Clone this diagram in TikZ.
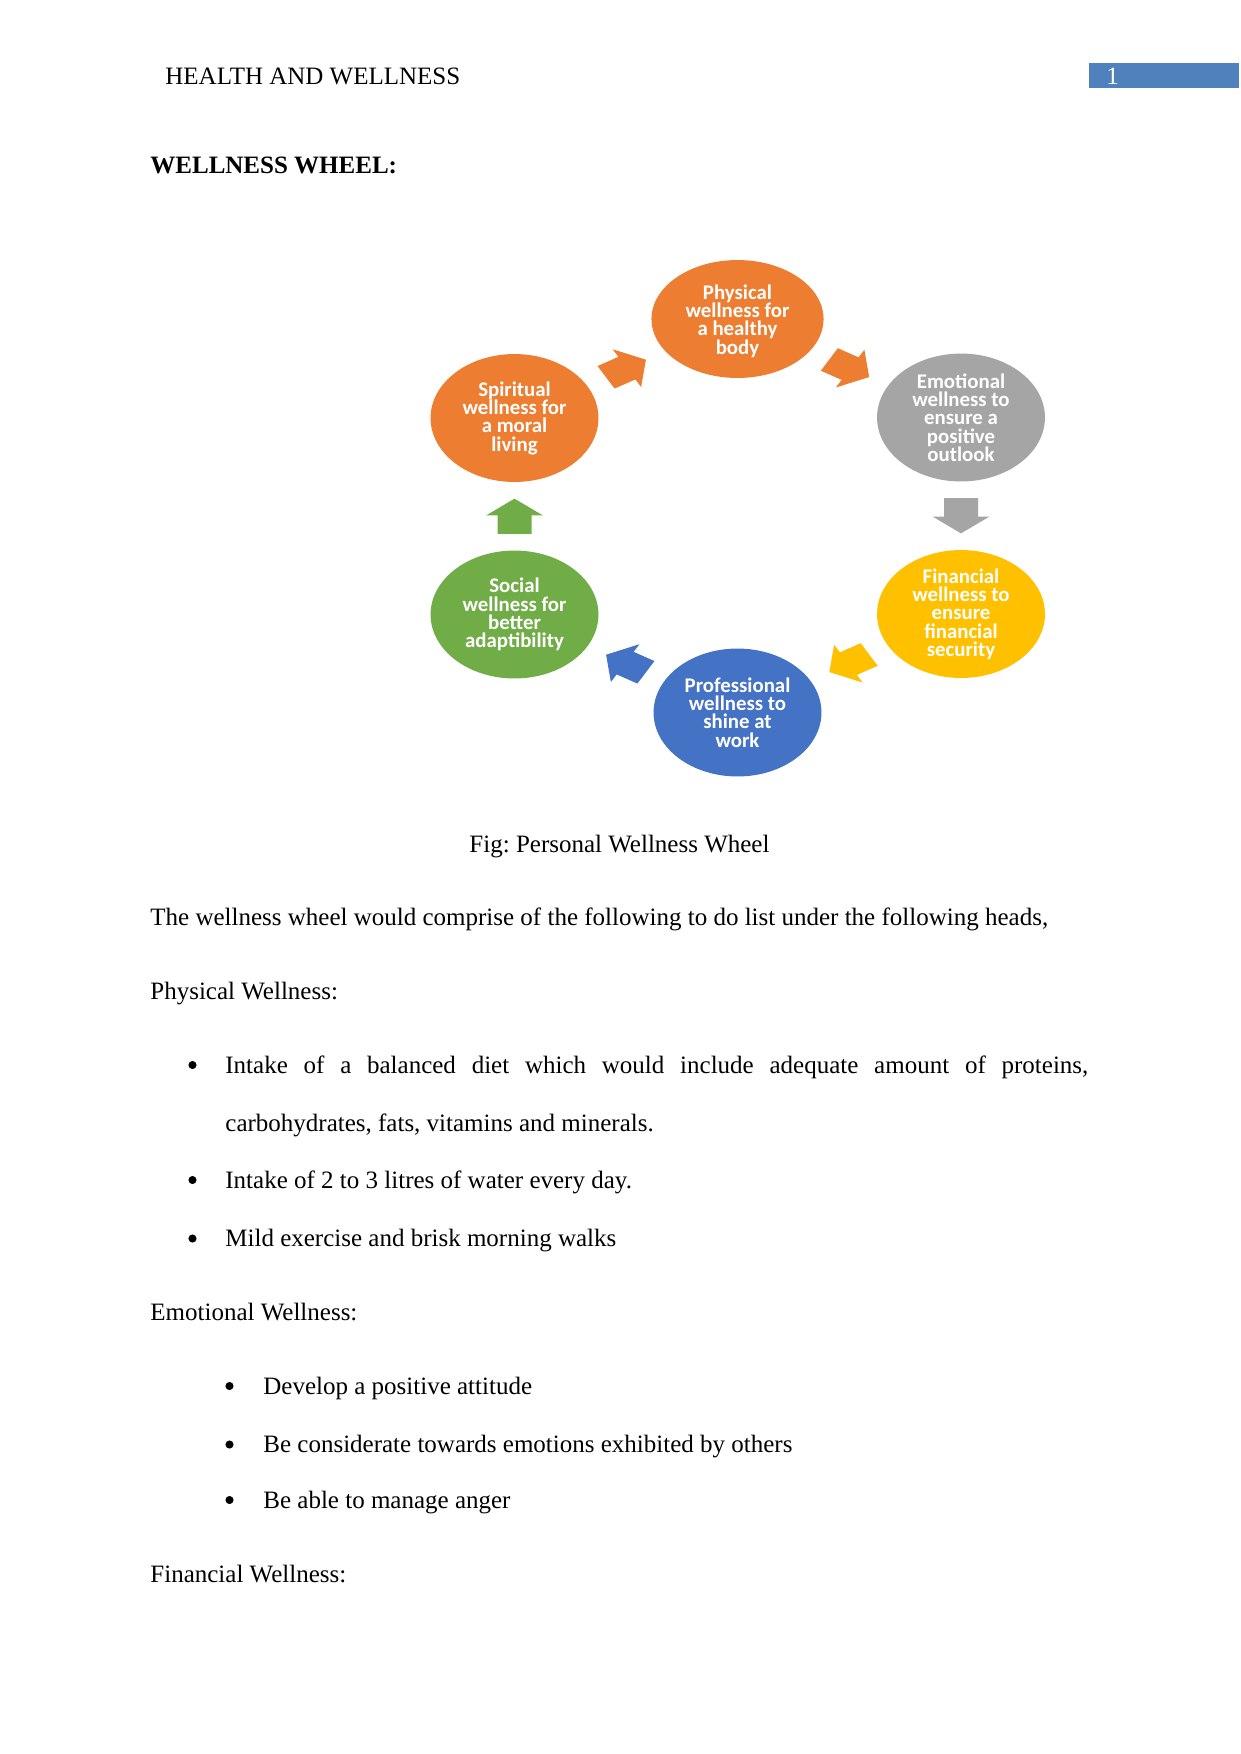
\documentclass[tikz,border=0pt]{standalone}
\usepackage{fontspec}
\setmainfont{Liberation Serif}
\newfontfamily\calib{Carlito}
\usetikzlibrary{shapes.geometric,calc}
\definecolor{worange}{HTML}{ED7D31}
\definecolor{wgray}{HTML}{A5A5A5}
\definecolor{wyellow}{HTML}{FFC000}
\definecolor{wblue}{HTML}{4472C4}
\definecolor{wgreen}{HTML}{70AD47}
\definecolor{hdrblue}{HTML}{4F81BD}
\newcommand\wheelarrow[3]{%
  \fill[#3, shift={(#1)}, yscale=0.765, rotate=#2]
    (-23,-17) -- (1,-17) -- (1,-28.5) -- (23,0) -- (1,28.5) -- (1,17) -- (-23,17) -- cycle;}
\begin{document}
\frenchspacing
\begin{tikzpicture}[x=0.48pt,y=-0.48pt,
  wnode/.style={ellipse, minimum width=80.6pt, minimum height=61.4pt, inner sep=0pt},
  wtext/.style={text=white, font=\calib\bfseries\fontsize{10}{8.8}\selectfont, align=center, inner sep=0pt},
  body/.style={anchor=base west, inner sep=0pt, font=\fontsize{12}{14}\selectfont},
  bul/.style={circle, fill=black, inner sep=0pt, minimum size=3.9pt},
]
\useasboundingbox[fill=white] (0,0) rectangle (1241,1754);

% header
\node[body] (hdr) at (165,84) {HEALTH AND WELLNESS};
\fill[hdrblue] (1089,63) rectangle (1239,88);
\node[body, text=white] (pg) at (1106,84) {1};
\node[body, font=\fontsize{12}{14}\selectfont\bfseries] (title) at (150,173.5) {WELLNESS WHEEL:};

% wheel nodes
\node[wnode, fill=worange, minimum width=82.6pt, minimum height=56.6pt] (phy) at (737.5,319) {};
\node[wnode, fill=wgray] (emo) at (961,417.5) {};
\node[wnode, fill=wyellow] (fin) at (961,614) {};
\node[wnode, fill=wblue] (pro) at (737.5,712.5) {};
\node[wnode, fill=wgreen] (soc) at (514.5,614.5) {};
\node[wnode, fill=worange] (spi) at (514.5,418) {};

\node[wtext] (phyt) at ([yshift=-1pt]phy.center) {Physical\\wellness for\\a healthy\\body};
\node[wtext] (emot) at (emo.center) {Emotional\\wellness to\\ensure a\\positive\\outlook};
\node[wtext] (fint) at (fin.center) {Financial\\wellness to\\ensure\\financial\\security};
\node[wtext] (prot) at (pro.center) {Professional\\wellness to\\shine at\\work};
\node[wtext] (soct) at (soc.center) {Social\\wellness for\\better\\adaptibility};
\node[wtext] (spit) at (spi.center) {Spiritual\\wellness for\\a moral\\living};

% block arrows between nodes
\coordinate (m1) at ($(spi.center)!0.5!(phy.center)$);
\coordinate (m2) at ($(phy.center)!0.5!(emo.center)$);
\coordinate (m3) at ($(emo.center)!0.5!(fin.center)$);
\coordinate (m4) at ($(fin.center)!0.5!(pro.center)$);
\coordinate (m5) at ($(pro.center)!0.5!(soc.center)$);
\coordinate (m6) at ($(soc.center)!0.5!(spi.center)$);
\wheelarrow{m1}{30}{worange}
\wheelarrow{m2}{-30}{worange}
\wheelarrow{m3}{-90}{wgray}
\wheelarrow{m4}{-150}{wyellow}
\wheelarrow{m5}{150}{wblue}
\wheelarrow{m6}{90}{wgreen}

% caption and text
\node[body, anchor=base] (cap) at (619.5,852) {Fig: Personal Wellness Wheel};
\node[body] (p1) at (150,925) {The wellness wheel would comprise of the following to do list under the following heads,};
\node[body] (h1) at (150,999) {Physical Wellness:};
\node[bul] (b1) at (192.5,1065) {};
\node[body] (l1) at (225,1073) {\makebox[414.2pt][s]{Intake of a balanced diet which would include adequate amount of proteins,}};
\node[body] (l1b) at (225,1131) {carbohydrates, fats, vitamins and minerals.};
\node[bul] (b2) at (192.5,1180) {};
\node[body] (l2) at (225,1188) {Intake of 2 to 3 litres of water every day.};
\node[bul] (b3) at (192.5,1238.5) {};
\node[body] (l3) at (225,1246.5) {Mild exercise and brisk morning walks};
\node[body] (h2) at (150,1320) {Emotional Wellness:};
\node[bul] (b4) at (229.5,1386) {};
\node[body] (l4) at (263,1394) {Develop a positive attitude};
\node[bul] (b5) at (229.5,1444.5) {};
\node[body] (l5) at (263,1452.5) {Be considerate towards emotions exhibited by others};
\node[bul] (b6) at (229.5,1500) {};
\node[body] (l6) at (263,1508) {Be able to manage anger};
\node[body] (h3) at (150,1582) {Financial Wellness:};
\end{tikzpicture}
\end{document}
